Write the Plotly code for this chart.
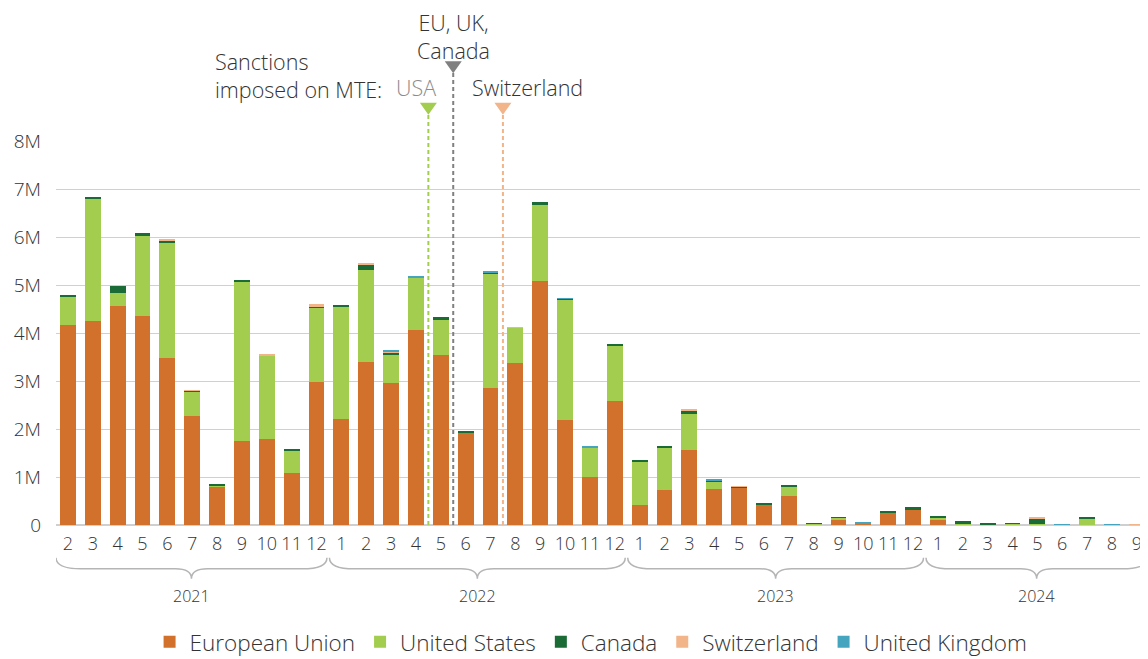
import plotly.graph_objects as go

# month labels, 2021-02 .. 2024-09
months = [2, 3, 4, 5, 6, 7, 8, 9, 10, 11, 12,
          1, 2, 3, 4, 5, 6, 7, 8, 9, 10, 11, 12,
          1, 2, 3, 4, 5, 6, 7, 8, 9, 10, 11, 12,
          1, 2, 3, 4, 5, 6, 7, 8, 9]
years = [2021] * 11 + [2022] * 12 + [2023] * 12 + [2024] * 9

# values in millions
eu = [4.17, 4.26, 4.57, 4.36, 3.47, 2.27, 0.81, 1.75, 1.80, 1.09, 2.97,
      2.21, 3.40, 2.95, 4.06, 3.54, 1.92, 2.85, 3.37, 5.08, 2.19, 1.00, 2.58,
      0.42, 0.73, 1.56, 0.76, 0.78, 0.42, 0.61, 0.01, 0.11, 0.04, 0.26, 0.31,
      0.12, 0.01, 0.0, 0.0, 0.0, 0.0, 0.0, 0.0, 0.0]
us = [0.60, 2.54, 0.26, 1.68, 2.41, 0.51, 0.01, 3.33, 1.73, 0.47, 1.56,
      2.34, 1.92, 0.61, 1.09, 0.74, 0.01, 2.39, 0.75, 1.59, 2.50, 0.62, 1.14,
      0.90, 0.88, 0.75, 0.14, 0.01, 0.0, 0.19, 0.02, 0.04, 0.0, 0.0, 0.0,
      0.03, 0.03, 0.01, 0.03, 0.02, 0.0, 0.13, 0.0, 0.0]
canada = [0.03, 0.03, 0.15, 0.04, 0.05, 0.02, 0.02, 0.03, 0.0, 0.03, 0.02,
          0.02, 0.10, 0.03, 0.0, 0.05, 0.03, 0.01, 0.0, 0.05, 0.02, 0.0, 0.05,
          0.02, 0.02, 0.07, 0.03, 0.01, 0.02, 0.03, 0.01, 0.01, 0.0, 0.03, 0.06,
          0.04, 0.04, 0.015, 0.01, 0.11, 0.0, 0.02, 0.0, 0.0]
switzerland = [0.0, 0.0, 0.0, 0.0, 0.03, 0.01, 0.0, 0.0, 0.03, 0.0, 0.05,
               0.0, 0.02, 0.02, 0.0, 0.0, 0.0, 0.0, 0.005, 0.0, 0.0, 0.0, 0.0,
               0.0, 0.0, 0.02, 0.0, 0.01, 0.0, 0.0, 0.0, 0.0, 0.0, 0.0, 0.0,
               0.0, 0.0, 0.0, 0.0, 0.02, 0.0, 0.0, 0.0, 0.003]
uk = [0.0, 0.0, 0.0, 0.0, 0.0, 0.0, 0.0, 0.0, 0.0, 0.0, 0.0,
      0.0, 0.0, 0.03, 0.03, 0.0, 0.0, 0.03, 0.0, 0.0, 0.01, 0.03, 0.0,
      0.0, 0.0, 0.0, 0.01, 0.0, 0.0, 0.0, 0.0, 0.0, 0.02, 0.0, 0.0,
      0.0, 0.0, 0.0, 0.0, 0.0, 0.02, 0.0, 0.005, 0.0]

series = [
    ("European Union", eu, "#d2712b"),
    ("United States", us, "#a2cd4e"),
    ("Canada", canada, "#1a6b35"),
    ("Switzerland", switzerland, "#f2b489"),
    ("United Kingdom", uk, "#45a5bf"),
]

# sanction dates, as positions between monthly bars
usa_x = 14.5     # between Apr and May 2022
eu_uk_x = 15.5   # between May and Jun 2022
swiss_x = 17.5   # between Jul and Aug 2022

FONT = "Open Sans"
TXT = "#333333"


def f(size, color=TXT):
    return dict(size=size, color=color, family=FONT, weight=300)


x = list(range(len(months)))

fig = go.Figure()
for name, vals, color in series:
    fig.add_trace(go.Bar(
        x=x, y=[v * 1e6 for v in vals], name=name,
        marker=dict(color=color, line=dict(width=0)),
    ))

# dashed event lines + triangles
events = [(usa_x, "#a2cd4e", 1.069, 1.084),
          (eu_uk_x, "#808080", 1.178, 1.192),
          (swiss_x, "#f2b489", 1.069, 1.084)]
for ex, col, ytop, ytri in events:
    fig.add_shape(type="line", xref="x", yref="paper", x0=ex, x1=ex, y0=0, y1=ytop,
                  line=dict(color=col, width=2, dash="4px,3px"), layer="above")
    fig.add_shape(type="path", xref="x", yref="paper", xsizemode="pixel", ysizemode="pixel",
                  xanchor=ex, yanchor=ytri, path="M -8.5,6 L 8.5,6 L 0,-6 Z",
                  fillcolor=col, line=dict(width=0))

fig.add_annotation(x=eu_uk_x, y=1.273, xref="x", yref="paper", text="EU, UK,<br>Canada",
                   showarrow=False, xanchor="center", yanchor="middle", font=f(21.5))
fig.add_annotation(x=usa_x - 1.78, y=1.171, xref="x", yref="paper",
                   text="Sanctions<br>imposed on MTE:", align="left",
                   showarrow=False, xanchor="right", yanchor="middle", font=f(21.5))
fig.add_annotation(x=usa_x + 0.4, y=1.139, xref="x", yref="paper", text="USA",
                   showarrow=False, xanchor="right", yanchor="middle", font=f(21.5, "#8c8c8c"))
fig.add_annotation(x=swiss_x - 1.34, y=1.139, xref="x", yref="paper", text="Switzerland",
                   showarrow=False, xanchor="left", yanchor="middle", font=f(21.5))

# year braces under the month ticks
y_top, y_mid, y_dip = -0.085, -0.114, -0.14
for yr in sorted(set(years)):
    idx = [i for i, y in enumerate(years) if y == yr]
    x0 = idx[0] - 0.48
    x1 = min(idx[-1] + 0.42, 43.45)
    xm = (x0 + x1) / 2
    c, cm = 1.0, 0.65
    path = (f"M {x0},{y_top} Q {x0},{y_mid} {x0 + c},{y_mid} "
            f"L {xm - cm},{y_mid} Q {xm},{y_mid} {xm},{y_dip} "
            f"Q {xm},{y_mid} {xm + cm},{y_mid} "
            f"L {x1 - c},{y_mid} Q {x1},{y_mid} {x1},{y_top}")
    fig.add_shape(type="path", xref="x", yref="paper", path=path,
                  line=dict(color="#b5b5b5", width=1.5))
    fig.add_annotation(x=xm, y=-0.184, xref="x", yref="paper", text=str(yr),
                       showarrow=False, xanchor="center", yanchor="middle", font=f(16))

# the page body adds an 8px margin, so the figure is 8px smaller than the window
fig.update_layout(
    width=1140, height=651,
    margin=dict(l=47.5, r=0, t=133.3, b=133.7, autoexpand=False),
    barmode="stack", bargap=0.36,
    plot_bgcolor="white", paper_bgcolor="white",
    font=dict(family=FONT, color=TXT),
    legend=dict(orientation="h", x=0.49, xanchor="center", y=-0.305, yanchor="middle",
                font=f(22.5), traceorder="normal"),
    xaxis=dict(range=[-0.48, 43.45], tickmode="array", tickvals=x,
               ticktext=[str(m) for m in months], automargin=False,
               ticklabeloverflow="allow",
               showgrid=False, zeroline=False, ticks="", showline=False,
               tickfont=f(18), ticklabelstandoff=6),
    yaxis=dict(range=[0, 8e6], dtick=1e6, tickformat="~s", showgrid=True, automargin=False,
               gridcolor="#d0d0d0", gridwidth=1, zeroline=True, zerolinecolor="#cfcfcf",
               zerolinewidth=2, ticks="", tickfont=f(19), ticklabelstandoff=14),
    showlegend=True,
)

fig.write_html("out.html")
